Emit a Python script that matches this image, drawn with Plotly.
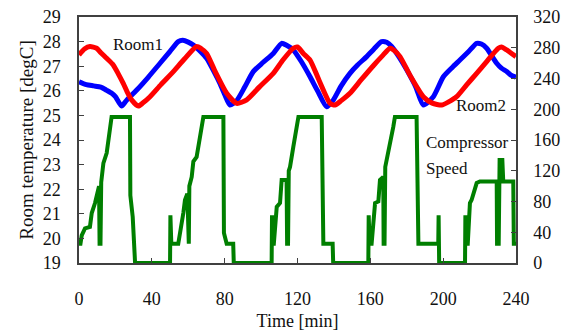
import plotly.graph_objects as go

room1_t = [0, 4, 8, 12, 15, 18, 20, 23.4, 26, 31.7, 38, 44.5, 50, 54.5, 57, 60, 62.8, 66, 70.1, 74, 77.4, 80, 82.9,
           86.6, 91, 95.7, 101, 106.7, 111.3, 114, 117.7, 122, 126.9, 131, 136, 139.7, 144, 148.8, 153, 158, 162,
           166.2, 169, 171.7, 176, 180, 185, 189.1, 194.6, 200.1, 205, 209.2, 214, 218.4, 221, 223.9, 226, 229.4,
           232, 234.9, 237, 240]
room1_v = [26.37, 26.25, 26.2, 26.15, 26.03, 25.9, 25.76, 25.38, 25.6, 26.03, 26.55, 27.12, 27.6, 28.0, 28.05, 27.98,
           27.86, 27.65, 27.32, 26.8, 26.3, 25.85, 25.42, 25.6, 26.15, 26.78, 27.15, 27.52, 27.93, 27.85, 27.66, 27.2,
           26.57, 26.0, 25.35, 25.63, 26.2, 26.71, 27.05, 27.39, 27.7, 28.0, 27.97, 27.8, 27.35, 26.85, 26.15, 25.42,
           25.76, 26.57, 26.95, 27.25, 27.6, 27.93, 27.9, 27.73, 27.5, 27.12, 26.92, 26.78, 26.65, 26.55]

room2_t = [0, 3, 6, 9.7, 12, 15.2, 18.8, 21.5, 24.3, 26.5, 28.9, 32.6, 35, 39, 45, 51.8, 58, 64.6, 67, 70.1, 75, 81.1,
           86.6, 92.1, 99, 106.7, 112, 117.7, 120, 123.2, 126.9, 132, 137.9, 140.6, 144, 148.8, 155, 162, 167, 170.8,
           173, 176.3, 182, 189.1, 194, 199.2, 203, 207.4, 213, 218.4, 224, 230.3, 232, 234.9, 237, 240]
room2_v = [27.46, 27.7, 27.8, 27.73, 27.55, 27.32, 27.05, 26.7, 26.3, 25.95, 25.63, 25.38, 25.5, 25.76, 26.25, 26.78,
           27.3, 27.8, 27.72, 27.52, 26.75, 25.9, 25.49, 25.63, 26.15, 26.71, 27.25, 27.73, 27.78, 27.52, 27.25, 26.4,
           25.49, 25.42, 25.6, 25.9, 26.45, 27.05, 27.45, 27.73, 27.65, 27.39, 26.6, 25.76, 25.5, 25.42, 25.55, 25.76,
           26.25, 26.71, 27.2, 27.73, 27.78, 27.66, 27.55, 27.39]

comp_t = [0, 0.8, 1.5, 3.3, 6, 7, 8.8, 9.7, 10.5, 11, 11.3, 11.8, 12.2, 13.4, 15.2, 17, 17.9, 28, 28.2, 29.5, 30, 30.8,
          50, 50.2, 50.7, 54.5, 57.3, 58.2, 59.5, 59.8, 60.3, 60.6, 61.9, 62.8, 64.6, 68.3, 79.3, 79.6, 81.1, 84.7, 85,
          105.8, 106, 106.5, 107, 108.6, 110.4, 111.3, 114, 114.3, 114.8, 115.2, 115.9, 117.7, 120.5, 133.3, 133.8,
          134.2, 139.3, 139.6, 158.9, 159.1, 159.6, 160.7, 162.6, 164.4, 165.3, 167.1, 167.3, 167.8, 168.2, 169,
          170.8, 172.6, 173.5, 185.4, 186.4, 197.3, 197.5, 197.8, 212, 212.2, 212.8, 213.5, 214.7, 215.6, 218.4,
          220.2, 229.4, 229.6, 230.5, 231, 232.5, 233, 238.5, 238.8, 240]
comp_v = [25, 25, 36, 45, 47, 65, 78, 86, 95, 100, 25, 25, 105, 130, 143, 182, 190, 190, 88, 60, 25, 0,
          0, 62, 25, 25, 65, 82, 90, 25, 25, 100, 112, 132, 138, 190, 190, 39, 25, 25, 0,
          0, 62, 25, 25, 73, 78, 108, 108, 25, 25, 120, 125, 151, 190, 190, 36,
          25, 25, 0, 0, 62, 25, 25, 78, 80, 108, 112, 25, 25, 125, 134,
          151, 177, 190, 190, 25, 25, 62, 0, 0, 62, 25, 25, 78, 82, 104,
          106, 106, 25, 25, 134, 134, 106, 106, 25, 25]

x_ticks = [0, 40, 80, 120, 160, 200, 240]
y_ticks = list(range(19, 30))
y2_ticks = list(range(0, 321, 40))

font = "Liberation Serif"
axcol = "#404040"
txt = "#111111"

fig = go.Figure()
fig.add_trace(go.Scatter(x=room1_t, y=room1_v, mode="lines", line=dict(color="#0000FF", width=5, shape="spline", smoothing=0.6)))
fig.add_trace(go.Scatter(x=room2_t, y=room2_v, mode="lines", line=dict(color="#FF0000", width=5, shape="spline", smoothing=0.6)))
fig.add_trace(go.Scatter(x=comp_t, y=comp_v, mode="lines", yaxis="y2", line=dict(color="#007F00", width=4)))

fig.update_layout(
    width=566, height=333,
    margin=dict(l=79, r=50, t=17, b=70),
    paper_bgcolor="white", plot_bgcolor="white",
    showlegend=False,
    font=dict(family=font, size=18, color=txt),
    xaxis=dict(range=[0, 240], tickvals=x_ticks, ticks="inside", ticklen=5, tickcolor=axcol,
               showline=True, linecolor=axcol, linewidth=1.5, mirror=True, showgrid=False, zeroline=False,
               automargin=False,
               ticklabelstandoff=19, tickfont=dict(family=font, size=18, color=txt),
               title=dict(text="Time [min]", font=dict(family=font, size=18, color=txt), standoff=6)),
    yaxis=dict(range=[19, 29], tickvals=y_ticks, ticks="inside", ticklen=5, tickcolor=axcol,
               showline=True, linecolor=axcol, linewidth=1.5, showgrid=False, zeroline=False,
               automargin=False,
               ticklabelstandoff=13, tickfont=dict(family=font, size=18, color=txt),
               title=dict(text="Room temperature [degC]", font=dict(family=font, size=19, color=txt), standoff=4)),
    yaxis2=dict(range=[0, 320], tickvals=y2_ticks, ticks="inside", ticklen=5, tickcolor=axcol,
                overlaying="y", side="right", showline=True, linecolor=axcol, linewidth=1.5,
                automargin=False,
                showgrid=False, zeroline=False, ticklabelstandoff=12, tickfont=dict(family=font, size=18, color=txt)),
    annotations=[
        dict(x=32.4, y=27.9, xref="x", yref="y", text="Room1", showarrow=False, font=dict(family=font, size=17, color=txt)),
        dict(x=220.8, y=25.42, xref="x", yref="y", text="Room2", showarrow=False, font=dict(family=font, size=17, color=txt)),
        dict(x=189.5, y=23.88, xref="x", yref="y", text="Compressor", xanchor="left", showarrow=False, font=dict(family=font, size=17, color=txt)),
        dict(x=189.5, y=22.86, xref="x", yref="y", text="Speed", xanchor="left", showarrow=False, font=dict(family=font, size=17, color=txt)),
    ],
)

fig.write_html("out.html")
